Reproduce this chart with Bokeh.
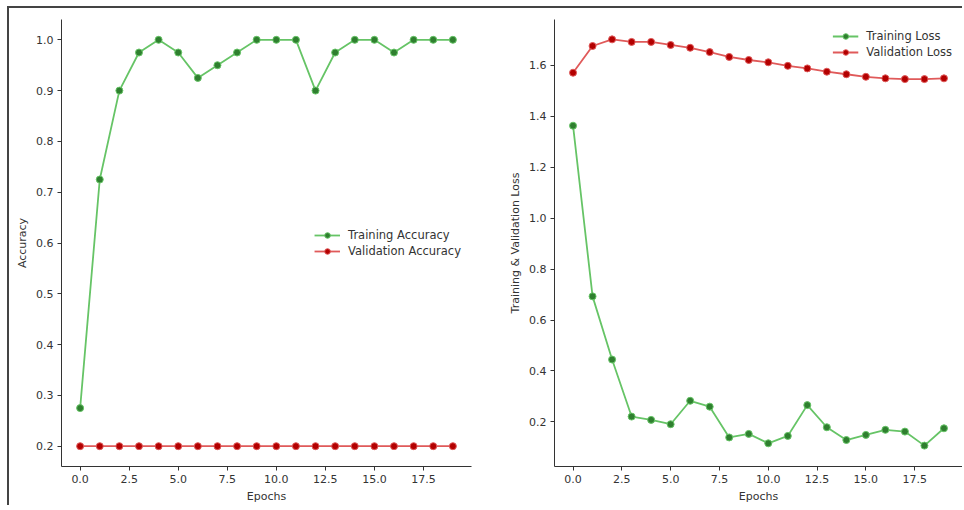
from bokeh.plotting import figure
from bokeh.layouts import row
from bokeh.models import FixedTicker, PrintfTickFormatter
from bokeh.embed import file_html
from bokeh.resources import INLINE

epochs = list(range(20))
train_acc = [0.275, 0.725, 0.9, 0.975, 1.0, 0.975, 0.925, 0.95, 0.975, 1.0,
             1.0, 1.0, 0.9, 0.975, 1.0, 1.0, 0.975, 1.0, 1.0, 1.0]
val_acc = [0.2] * 20
train_loss = [1.363, 0.693, 0.445, 0.221, 0.208, 0.191, 0.283, 0.260, 0.139, 0.153,
              0.116, 0.145, 0.266, 0.179, 0.129, 0.149, 0.169, 0.162, 0.107, 0.175]
val_loss = [1.571, 1.676, 1.702, 1.692, 1.692, 1.680, 1.669, 1.652, 1.633, 1.621,
            1.612, 1.598, 1.588, 1.575, 1.565, 1.555, 1.549, 1.546, 1.546, 1.549]
x_ticks = [0.0, 2.5, 5.0, 7.5, 10.0, 12.5, 15.0, 17.5]
acc_ticks = [0.2, 0.3, 0.4, 0.5, 0.6, 0.7, 0.8, 0.9, 1.0]
loss_ticks = [0.2, 0.4, 0.6, 0.8, 1.0, 1.2, 1.4, 1.6]

FONT = "DejaVu Sans"
G_LINE, G_MARK = "#66c466", "#2f7f2f"
R_LINE, R_MARK = "#e05a5a", "#b30000"


def make_fig(y_range, yticks, ylabel, ml, mr, fw):
    p = figure(output_backend="svg", toolbar_location=None,
               frame_width=fw, frame_height=447,
               x_range=(-0.95, 19.95), y_range=y_range,
               min_border_left=ml, min_border_right=mr,
               min_border_top=11, min_border_bottom=36)
    p.outline_line_color = None
    p.grid.visible = False
    p.background_fill_color = "white"
    p.border_fill_color = None
    for ax in (p.xaxis[0], p.yaxis[0]):
        ax.axis_line_color = "#333333"
        ax.axis_line_width = 1
        ax.major_tick_line_color = "#333333"
        ax.major_tick_out = 4
        ax.major_tick_in = 0
        ax.minor_tick_line_color = None
        ax.major_label_text_font = FONT
        ax.major_label_text_font_size = "11px"
        ax.major_label_text_color = "#333333"
        ax.axis_label_text_font = FONT
        ax.axis_label_text_font_size = "11px"
        ax.axis_label_text_font_style = "normal"
        ax.axis_label_text_color = "#333333"
        ax.major_label_standoff = 4
        ax.axis_label_standoff = 4
    p.xaxis[0].ticker = FixedTicker(ticks=x_ticks)
    p.xaxis[0].formatter = PrintfTickFormatter(format="%.1f")
    p.yaxis[0].ticker = FixedTicker(ticks=yticks)
    p.yaxis[0].formatter = PrintfTickFormatter(format="%.1f")
    p.xaxis[0].axis_label = "Epochs"
    p.yaxis[0].axis_label = ylabel
    return p


def add_series(p, y, label, lc, mc):
    p.line(epochs, y, line_color=lc, line_width=1.8, legend_label=label)
    p.scatter(epochs, y, size=7, fill_color=mc, line_color=lc, line_width=1,
              legend_label=label)


p1 = make_fig((0.16, 1.04), acc_ticks, "Accuracy", 52, 8, 410)
add_series(p1, train_acc, "Training Accuracy", G_LINE, G_MARK)
add_series(p1, val_acc, "Validation Accuracy", R_LINE, R_MARK)
p1.legend.location = "right"

p2 = make_fig((0.025, 1.78), loss_ticks, "Training & Validation Loss", 75, 0, 408)
add_series(p2, train_loss, "Training Loss", G_LINE, G_MARK)
add_series(p2, val_loss, "Validation Loss", R_LINE, R_MARK)
p2.legend.location = "top_right"

for p in (p1, p2):
    lg = p.legend[0]
    lg.border_line_alpha = 0
    lg.background_fill_alpha = 0
    lg.label_text_font = FONT
    lg.label_text_font_size = "11.5px"
    lg.label_text_color = "#333333"
    lg.glyph_width = 26
    lg.glyph_height = 14
    lg.spacing = 2
    lg.padding = 4
    lg.margin = 6
    lg.label_standoff = 8

layout = row(p1, p2, margin=(6, 0, 0, 7),
             styles={"border-top": "2px solid #444",
                     "border-left": "2px solid #444",
                     "background-color": "white"})

open("out.html", "w").write(file_html(layout, INLINE))
